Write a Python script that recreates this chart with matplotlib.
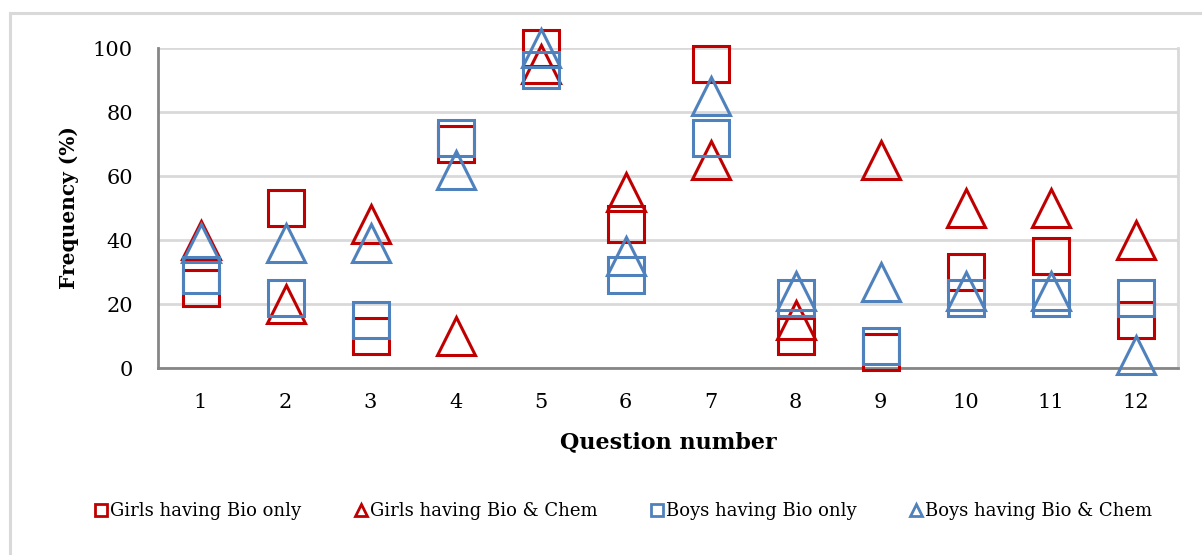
import matplotlib.pyplot as plt
from matplotlib.lines import Line2D
from matplotlib.patches import Rectangle

questions = [1, 2, 3, 4, 5, 6, 7, 8, 9, 10, 11, 12]
girls_bio = [25, 50, 10, 70, 100, 45, 95, 10, 5, 30, 35, 15]
girls_bio_chem = [40, 20, 45, 10, 95, 55, 65, 15, 65, 50, 50, 40]
boys_bio = [29, 22, 15, 72, 93, 29, 72, 22, 7, 22, 22, 22]
boys_bio_chem = [39, 39, 39, 62, 100, 35, 85, 24, 27, 24, 24, 4]

labels = ["Girls having Bio only", "Girls having Bio & Chem",
          "Boys having Bio only", "Boys having Bio & Chem"]

red = "#C00000"
blue = "#4F81BD"

plt.rcParams['font.family'] = ['DejaVu Serif']

fig = plt.figure(figsize=(12.02, 5.55), dpi=100)
ax = fig.add_axes([158/1202, 1-368/555, 1020/1202, 320/555])

# outer chart border (runs off the right/bottom edge like the reference)
fig.patches.append(Rectangle((10/1202, -0.1), 1.2, 1-13/555+0.1, transform=fig.transFigure,
                             fill=False, edgecolor="#D9D9D9", lw=2.2))

series = [(girls_bio, "s", red), (girls_bio_chem, "^", red),
          (boys_bio, "s", blue), (boys_bio_chem, "^", blue)]
for vals, m, c in series:
    ax.plot(questions, vals, linestyle="none", marker=m,
            markersize=26.5 if m == "s" else 28,
            markerfacecolor="none", markeredgecolor=c, markeredgewidth=2.2,
            clip_on=False, zorder=3)

ax.set_xlim(0.5, 12.5)
ax.set_ylim(0, 100)
ax.set_yticks([0, 20, 40, 60, 80, 100])
ax.set_xticks(questions)
ax.grid(axis="y", color="#D9D9D9", lw=2)
ax.set_axisbelow(True)
ax.spines["top"].set_visible(False)
ax.spines["right"].set_color("#D9D9D9")
ax.spines["right"].set_linewidth(2)
ax.spines["left"].set_color("#868686")
ax.spines["left"].set_linewidth(2)
ax.spines["bottom"].set_color("#868686")
ax.spines["bottom"].set_linewidth(2)
ax.tick_params(length=0, labelsize=15)
ax.tick_params(axis="y", pad=18)
ax.tick_params(axis="x", pad=18)
ax.set_xlabel("Question number", fontsize=16, fontweight="bold", labelpad=14)
ax.set_ylabel("Frequency (%)", fontsize=14.5, fontweight="bold", labelpad=10)

handles = [Line2D([], [], linestyle="none", marker=m, markersize=8,
                  markerfacecolor="none", markeredgecolor=c, markeredgewidth=2)
           for _, m, c in series]
fig.legend(handles, labels, loc="center", bbox_to_anchor=(624/1202, 1-511/555), ncol=4,
           frameon=False, fontsize=13, handlelength=0.6, handletextpad=0.2,
           columnspacing=3.0)

fig.savefig("out.png", dpi=100)
